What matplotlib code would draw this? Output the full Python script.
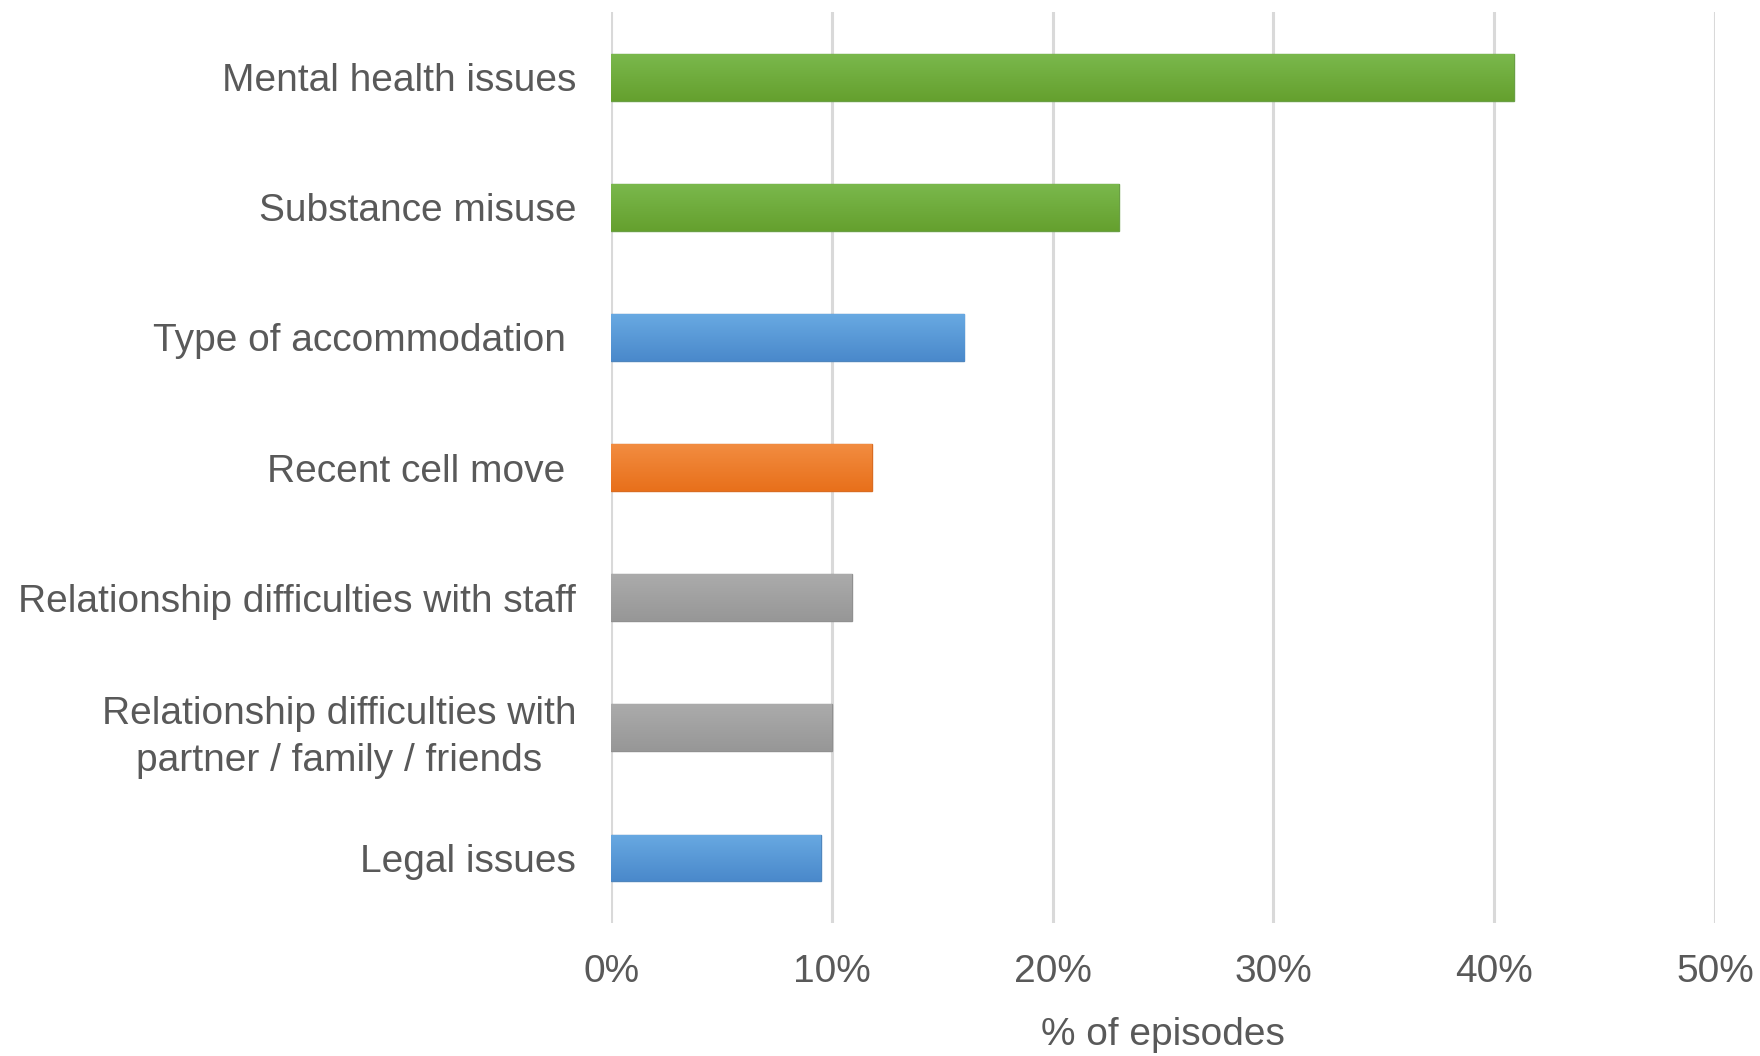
import matplotlib
matplotlib.use("Agg")
import matplotlib.pyplot as plt
import numpy as np
from matplotlib.colors import LinearSegmentedColormap

plt.rcParams['font.family'] = ['Liberation Sans', 'DejaVu Sans']

categories = [
    "Mental health issues",
    "Substance misuse",
    "Type of accommodation ",
    "Recent cell move ",
    "Relationship difficulties with staff",
    "Relationship difficulties with\npartner / family / friends",
    "Legal issues",
]
values = [40.9, 23.0, 16.0, 11.8, 10.9, 10.0, 9.5]
groups = ["green", "green", "blue", "orange", "grey", "grey", "blue"]
xticks = [0, 10, 20, 30, 40, 50]
xlabel = "% of episodes"

# top / bottom shades of each bar group
shades = {
    "green": ("#7ab84c", "#65a02e"),
    "blue": ("#68a9e2", "#4a89cb"),
    "orange": ("#f28c40", "#e8701b"),
    "grey": ("#ababab", "#979797"),
}
edges = {"green": "#6a9f45", "blue": "#4f86bd", "orange": "#d96c22", "grey": "#909090"}

text_col = "#595959"
fs = 28

fig = plt.figure(figsize=(17.6, 10.56), dpi=100)
ax = fig.add_axes([0.3472, 0.1259, 0.6272, 0.8627])

ypos = np.arange(len(categories))
bar_h = 0.36
bars = ax.barh(ypos, values, height=bar_h, color=[shades[g][0] for g in groups],
               edgecolor=[edges[g] for g in groups], linewidth=1.0, zorder=2)

grad = np.linspace(0, 1, 64).reshape(-1, 1)
for rect, y, v, g in zip(bars, ypos, values, groups):
    cmap = LinearSegmentedColormap.from_list(g, [shades[g][0], shades[g][1]])
    im = ax.imshow(grad, cmap=cmap, aspect="auto", interpolation="bilinear",
                   extent=[0, v, y + bar_h / 2, y - bar_h / 2], zorder=2.5)
    im.set_clip_path(rect)

ax.set_xlim(0, 50)
ax.set_ylim(len(categories) - 0.5, -0.5)
ax.set_xticks(xticks)
ax.set_xticklabels([f"{t}%" for t in xticks])
ax.set_yticks(ypos)
ax.set_yticklabels(categories)
for lab in ax.get_yticklabels():
    lab.set_multialignment("center")
    lab.set_linespacing(1.4)

ax.grid(axis="x", color="#d9d9d9", linewidth=2.2, zorder=0)
ax.set_axisbelow(True)
for s in ax.spines.values():
    s.set_visible(False)

ax.tick_params(axis="y", length=0, pad=25, labelsize=fs, labelcolor=text_col)
ax.tick_params(axis="x", length=0, pad=22, labelsize=fs, labelcolor=text_col)
ax.set_xlabel(xlabel, fontsize=fs, color=text_col, labelpad=20)

fig.savefig("out.png", dpi=100, facecolor="white")
